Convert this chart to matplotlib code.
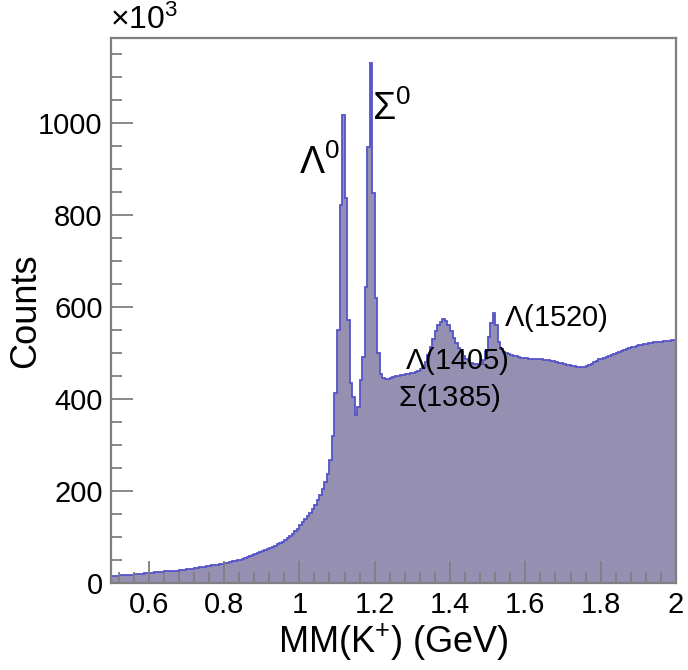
import numpy as np
import matplotlib
matplotlib.use('Agg')
import matplotlib.pyplot as plt
from matplotlib.ticker import MultipleLocator

plt.rcParams['font.family'] = ['Liberation Sans', 'DejaVu Sans']
plt.rcParams['mathtext.fontset'] = 'custom'
plt.rcParams['mathtext.rm'] = 'Liberation Sans'
plt.rcParams['mathtext.it'] = 'Liberation Sans'

# histogram range and binning (GeV)
x_lo, x_hi, n_bins = 0.5, 2.0, 225

# counts per bin, in units of 10^3
counts_low = [16, 16, 16, 17, 17, 17, 18, 18, 18, 19, 19, 20, 20, 21, 21,
              22, 22, 23, 23, 24, 24, 25, 25, 26, 26, 27, 27, 28, 28, 29,
              30, 30, 31, 32, 33, 34, 34, 35, 36, 37, 38, 39, 40, 41, 42,
              43, 44, 46, 47, 48, 50, 51, 53, 55, 57, 59, 61, 63, 65, 67,
              69, 71, 73, 75, 78, 81, 84, 87, 90, 94, 98, 102, 107, 112, 118]
counts_rise = [126, 132, 139, 146, 153, 161, 170, 180, 191, 204, 219, 238, 268, 320, 414]
counts_peaks = [550, 822, 1017, 837, 572, 435, 405, 365, 383, 441, 492, 644, 948,
                1130, 847, 620, 500, 455, 446]
counts_high = [444, 443, 445, 447, 449, 451, 452, 453, 454, 455, 456, 457, 459, 461, 465,
               470, 480, 495, 512, 530, 548, 560, 568, 573, 570, 560, 547, 533, 521, 510,
               502, 494, 488, 483, 479, 477, 476, 475, 476, 485, 505, 535, 565, 586, 560,
               525, 508, 502, 499, 497, 496, 494, 493, 492, 490, 489, 489, 488, 488, 487,
               487, 486, 486, 485, 485, 484, 483, 482, 481, 479, 478, 477, 475, 474, 472,
               471, 470, 469, 469, 470, 472, 474, 477, 480, 483, 486, 488, 490, 492, 494,
               496, 498, 500, 502, 504, 506, 508, 510, 512, 514, 515, 517, 518, 519, 520,
               521, 522, 523, 524, 524, 525, 526, 526, 527, 528, 528]

counts = np.array(counts_low + counts_rise + counts_peaks + counts_high, dtype=float)
edges = np.linspace(x_lo, x_hi, n_bins + 1)

# peak labels: text, x, y (data coords), font size
labels = [(r'$\Lambda^{0}$', 1.054, 913, 27),
          (r'$\Sigma^{0}$', 1.244, 1030, 27),
          (r'$\Lambda(1405)$', 1.419, 482, 21),
          (r'$\Sigma(1385)$', 1.398, 402, 21),
          (r'$\Lambda(1520)$', 1.681, 576, 21)]

fill_color = '#958fb1'
line_color = '#5454c8'
frame_color = '#7f7f7f'

fig = plt.figure(figsize=(6.88, 6.70), dpi=100)
ax = fig.add_axes([0.1613, 0.1299, 0.8213, 0.8134])

ax.stairs(counts, edges, fill=True, color=fill_color, linewidth=0)
ax.stairs(counts, edges, color=line_color, linewidth=1.3)

ax.set_xlim(x_lo, x_hi)
ax.set_ylim(0, 1185)

ax.xaxis.set_major_locator(MultipleLocator(0.2))
ax.xaxis.set_minor_locator(MultipleLocator(0.04))
ax.yaxis.set_major_locator(MultipleLocator(200))
ax.yaxis.set_minor_locator(MultipleLocator(50))
ax.xaxis.set_major_formatter(plt.FuncFormatter(lambda v, p: f'{v:g}'))

ax.tick_params(which='both', direction='in', color=frame_color, width=1.3,
               labelsize=21, top=False, right=False)
ax.tick_params(which='major', length=16, pad=6)
ax.tick_params(which='minor', length=8)
for s in ax.spines.values():
    s.set_color(frame_color)
    s.set_linewidth(1.6)

ax.set_xlabel(r'MM(K$^{+}$) (GeV)', fontsize=26, labelpad=2)
ax.set_ylabel('Counts', fontsize=26)
ax.yaxis.set_label_coords(-0.12, 0.5)
ax.text(-0.002, 1.004, r'$\times10^{3}$', transform=ax.transAxes, fontsize=23,
        ha='left', va='bottom')

for txt, lx, ly, fs in labels:
    ax.text(lx, ly, txt, fontsize=fs, ha='center', va='center')

fig.savefig('out.png', dpi=100)
